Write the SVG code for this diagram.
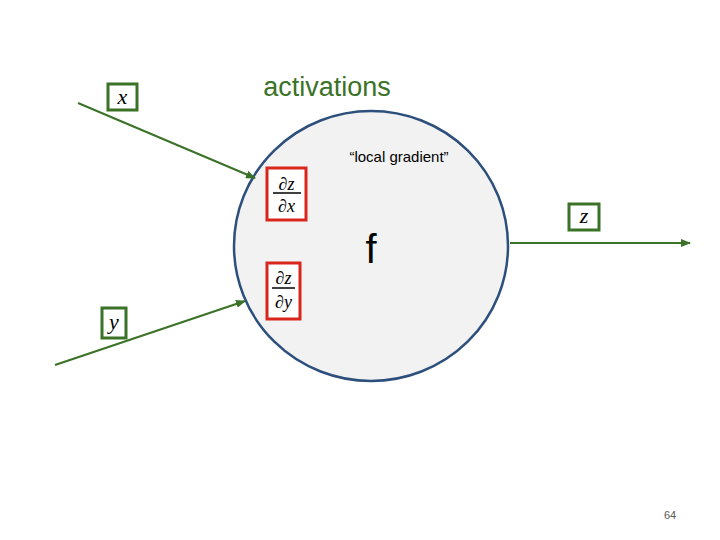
<svg xmlns="http://www.w3.org/2000/svg" width="720" height="540" viewBox="0 0 720 540">
<style>
.g{fill:#fff;stroke:#3a7228;stroke-width:3}
.r{fill:#fff;stroke:#d9261c;stroke-width:3}
.m{font-family:'Liberation Serif',serif;font-style:italic;fill:#000}
.c{stroke:#3a7228;stroke-width:2;fill:none}
</style>
<defs><marker id="a" markerWidth="10" markerHeight="8" refX="9" refY="4" orient="auto" markerUnits="userSpaceOnUse"><path d="M0,0L10,4L0,8z" fill="#3a7228"/></marker></defs>
<rect width="720" height="540" fill="#fff"/>
<g id="neuron"><ellipse cx="371" cy="246" rx="137" ry="135" fill="#f2f2f2" stroke="#2c4f7c" stroke-width="2.5"/>
<text x="371" y="263" font-family="Liberation Sans,sans-serif" font-size="40" text-anchor="middle">f</text></g>
<g id="connectors">
<line class="c" x1="78" y1="103" x2="255" y2="178" marker-end="url(#a)"/>
<line class="c" x1="55" y1="365" x2="245" y2="301" marker-end="url(#a)"/>
<line class="c" x1="510" y1="243" x2="690" y2="243" marker-end="url(#a)"/>
</g>
<g id="x"><rect class="g" x="108" y="84" width="29" height="26"/><text class="m" x="122.5" y="104" font-size="22" text-anchor="middle">x</text></g>
<g id="y"><rect class="g" x="102" y="308" width="24" height="30"/><text class="m" x="114" y="329" font-size="22" text-anchor="middle">y</text></g>
<g id="z"><rect class="g" x="569" y="204" width="30" height="26"/><text class="m" x="584" y="223" font-size="22" text-anchor="middle">z</text></g>
<g id="dzdx"><rect class="r" x="267" y="168" width="39" height="52"/><text class="m" x="286.5" y="190" font-size="18" text-anchor="middle">∂z</text><line x1="273" y1="193" x2="301" y2="193" stroke="#000" stroke-width="1.5"/><text class="m" x="286.5" y="212" font-size="18" text-anchor="middle">∂x</text></g>
<g id="dzdy"><rect class="r" x="267" y="263" width="33" height="56"/><text class="m" x="283.5" y="284" font-size="18" text-anchor="middle">∂z</text><line x1="272" y1="288" x2="295" y2="288" stroke="#000" stroke-width="1.5"/><text class="m" x="283.5" y="308" font-size="18" text-anchor="middle">∂y</text></g>
<text x="327" y="96" font-family="Liberation Sans,sans-serif" font-size="27" fill="#3a7228" text-anchor="middle">activations</text>
<text x="399" y="162" font-family="Liberation Sans,sans-serif" font-size="15" text-anchor="middle">“local gradient”</text>
<text x="670" y="519" font-family="Liberation Sans,sans-serif" font-size="11" fill="#595959" text-anchor="middle">64</text>
</svg>
